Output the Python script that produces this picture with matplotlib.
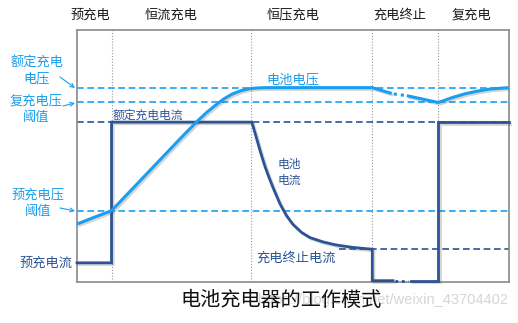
import matplotlib
matplotlib.use("Agg")
import matplotlib.pyplot as plt
import matplotlib.patheffects as pe

plt.rcParams['font.family'] = ['Noto Sans CJK SC', 'DejaVu Sans']

# ---------------- data ----------------
phase_labels = ['预充电', '恒流充电', '恒压充电', '充电终止', '复充电']
phase_label_x = [3.0, 21.8, 50.0, 74.8, 91.3]
phase_bounds = [8.0, 40.2, 68.4, 83.7]

V_rated = 77.1      # 额定充电电压
V_recharge = 71.2   # 复充电压阈值
I_rated = 63.4      # 额定充电电流
V_pre = 28.2        # 预充电压阈值
I_term = 12.9       # 充电终止电流
I_pre = 7.5         # 预充电流
I_zero = 0.4

# battery voltage
volt_t1 = [0, 4, 8, 12, 16, 20, 24, 28, 30, 32, 34, 36, 38, 40, 42, 44, 68.4, 70.5, 72.9]
volt_v1 = [22.9, 25.6, 28.2, 35.4, 42.6, 49.8, 57.0, 64.0, 67.2, 70.0, 72.6, 74.6, 75.9, 76.7, 77.0, 77.1, 77.1, 76.0, 74.8]
volt_tgap = [73.4, 76.0]
volt_vgap = [74.6, 74.0]
volt_t2 = [76.4, 83.7, 87, 90, 93, 96, 100]
volt_v2 = [73.9, 71.2, 73.2, 74.7, 75.8, 76.6, 77.1]

# battery current
cur_t1 = [0, 8, 8, 40.5, 41.5, 42.5, 43.5, 44.5, 45.5, 47, 48.5, 50, 52, 54, 57, 60, 64, 68.4, 68.4, 73.2]
cur_i1 = [I_pre, I_pre, I_rated, I_rated, 57.5, 51.5, 46.0, 41.3, 37.0, 31.0, 26.3, 22.8, 19.6, 17.5, 15.8, 14.6, 13.6, 12.9, I_zero, I_zero]
cur_tgap = [73.7, 76.6]
cur_igap = [I_zero, I_zero]
cur_t2 = [77.4, 83.7, 83.7, 100]
cur_i2 = [I_zero, I_zero, I_rated, I_rated]

LB = '#1A9EF0'
DB = '#2C5495'

W, H = 518, 323
fig = plt.figure(figsize=(W / 100, H / 100), dpi=100)
ax = fig.add_axes([77 / W, 1 - 281.7 / H, 431.7 / W, 251.7 / H])
ax.set_xlim(0, 100)
ax.set_ylim(0, 100)
ax.set_xticks([])
ax.set_yticks([])
for s in ax.spines.values():
    s.set_color('#8a8a8a')
    s.set_linewidth(1.2)

for xb in phase_bounds:
    ax.axvline(xb, color='#9a9a9a', lw=0.8, linestyle=(0, (1, 1.6)), zorder=1)

dash = (0, (4, 2.2))
ax.axhline(V_rated, color=LB, lw=1.2, linestyle=dash, zorder=2)
ax.axhline(V_recharge, color=LB, lw=1.2, linestyle=dash, zorder=2)
ax.axhline(V_pre, color=LB, lw=1.2, linestyle=dash, zorder=2)
ax.axhline(I_rated, color=DB, lw=1.2, linestyle=dash, zorder=2)
ax.plot([60.8, 100], [I_term, I_term], color=DB, lw=1.2, linestyle=dash, zorder=2)

shadow = [pe.SimpleLineShadow(offset=(1.2, -1.2), alpha=0.25, shadow_color='#555555'), pe.Normal()]

kw_cur = dict(color=DB, lw=2.0, solid_joinstyle='miter', zorder=4, clip_on=False, path_effects=shadow)
ax.plot(cur_t1, cur_i1, **kw_cur)
ax.plot(cur_t2, cur_i2, **kw_cur)
ax.plot(cur_tgap, cur_igap, color=DB, lw=2.0, linestyle=(0, (1, 1.3)), zorder=4, clip_on=False)

kw_v = dict(color=LB, lw=2.2, solid_capstyle='butt', zorder=5, path_effects=shadow)
ax.plot(volt_t1, volt_v1, **kw_v)
ax.plot(volt_t2, volt_v2, **kw_v)
ax.plot(volt_tgap, volt_vgap, color=LB, lw=2.2, linestyle=(0, (1, 1.3)), zorder=5)

# phase labels
for lab, xp in zip(phase_labels, phase_label_x):
    ax.text(xp, 1.06, lab, transform=ax.get_xaxis_transform(), ha='center', va='center',
            fontsize=9.5, color='#1a1a1a')


def ft(x, y, s, **kw):
    fig.text(x / W, 1 - y / H, s, **kw)


ft(37, 71, '额定充电\n电压', ha='center', va='center', fontsize=9.5, color=LB, linespacing=1.3)
ft(36, 109, '复充电压\n阈值', ha='center', va='center', fontsize=9.5, color=LB, linespacing=1.3)
ft(38, 203, '预充电压\n阈值', ha='center', va='center', fontsize=9.5, color=LB, linespacing=1.3)
ft(72, 263, '预充电流', ha='right', va='center', fontsize=9.5, color=DB)
ft(113, 115, '额定充电电流', ha='left', va='center', fontsize=8.5, color=DB)
ft(266, 80, '电池电压', ha='left', va='center', fontsize=9.5, color=LB)
ft(278, 172.5, '电池\n电流', ha='left', va='center', fontsize=8.5, color=DB, linespacing=1.35)
ft(336, 258, '充电终止电流', ha='right', va='center', fontsize=9.5, color=DB)

ft(508, 300, 'https://blog.csdn.net/weixin_43704402', ha='right', va='center', fontsize=10.5,
   color='#d6d6d6', family=['Liberation Sans', 'DejaVu Sans'], zorder=0)
ft(281, 300, '电池充电器的工作模式', ha='center', va='center', fontsize=14.5, color='#111111', zorder=3)

arrow_kw = dict(arrowstyle='->', color=LB, lw=0.8, shrinkA=0, shrinkB=0, mutation_scale=7)
for (x0, y0), (x1, y1) in [((60, 77), (75, 88)), ((63, 106), (75, 103)), ((60, 208), (75, 211))]:
    fig.add_artist(matplotlib.patches.FancyArrowPatch((x0 / W, 1 - y0 / H), (x1 / W, 1 - y1 / H),
                                                      transform=fig.transFigure, **arrow_kw))

fig.savefig('out.png', dpi=100)
